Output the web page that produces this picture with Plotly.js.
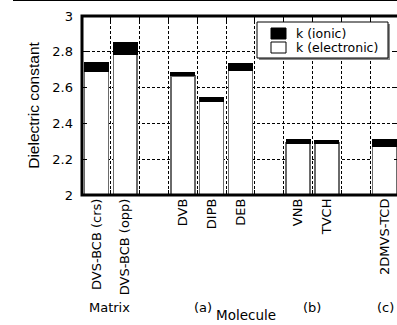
<!DOCTYPE html>
<html>
<head>
<meta charset="utf-8">
<script src="https://cdn.plot.ly/plotly-3.0.1.min.js"></script>
<style>
html, body { margin: 0; padding: 0; background: #fff; overflow: hidden; }
#chart { width: 400px; height: 325px; }
</style>
</head>
<body>
<div id="chart"></div>
<script>
// Categories (blank entries are the empty spacer slots between groups)
const categories = ['DVS-BCB (crs)', 'DVS-BCB (opp)', ' ', 'DVB', 'DIPB', 'DEB', '  ', 'VNB', 'TVCH', '   ', '2DMVS-TCD'];
// Electronic contribution (white bar, from 0)
const kElectronic = [2.69, 2.785, null, 2.665, 2.525, 2.695, null, 2.29, 2.29, null, 2.27];
// Ionic contribution (black bar, stacked on top)
const kIonic = [0.05, 0.065, null, 0.022, 0.018, 0.04, null, 0.019, 0.017, null, 0.041];
// Y tick values
const yTicks = [2, 2.2, 2.4, 2.6, 2.8, 3];
// Series names
const seriesNames = ['k (ionic)', 'k (electronic)'];
// Group labels under the axis
const groupLabels = ['Matrix', '(a)', '(b)', '(c)'];
const axisLabel = 'Molecule';

const font = 'DejaVu Sans, Arial, sans-serif';

// plot area in pixels (for placing decorations)
const L = 82, R = 1, T = 16, B = 130, W = 400, H = 325;
const PW = W - L - R, PH = H - T - B;
const px = p => (p - L) / PW;
const py = p => (H - B - p) / PH;

const traces = [
  {
    type: 'bar', name: seriesNames[1], x: categories, y: kElectronic,
    width: 0.83,
    marker: { color: '#ffffff', line: { color: '#6a6a6a', width: 1.5 } },
    hoverinfo: 'skip', showlegend: false
  },
  {
    type: 'bar', name: seriesNames[0], x: categories, y: kIonic,
    width: 0.83,
    marker: { color: '#000000', line: { color: '#000000', width: 1 } },
    hoverinfo: 'skip', showlegend: false
  }
];

const groupPx = [109, 203, 312, 385.5];
const annotations = groupLabels.map((t, i) => ({
  text: t, xref: 'paper', yref: 'paper', x: px(groupPx[i]), y: py(307),
  xanchor: 'center', yanchor: 'middle', showarrow: false,
  font: { family: font, size: 13, color: '#000' }
}));
annotations.push({
  text: axisLabel, xref: 'paper', yref: 'paper', x: px(246), y: py(314.5),
  xanchor: 'center', yanchor: 'middle', showarrow: false,
  font: { family: font, size: 13.5, color: '#000' }
});
// legend texts
annotations.push({
  text: seriesNames[0], xref: 'paper', yref: 'paper', x: px(294), y: py(33.5),
  xanchor: 'left', yanchor: 'middle', showarrow: false,
  font: { family: font, size: 12.5, color: '#000' }
});
annotations.push({
  text: seriesNames[1], xref: 'paper', yref: 'paper', x: px(294), y: py(47),
  xanchor: 'left', yanchor: 'middle', showarrow: false,
  font: { family: font, size: 12.5, color: '#000' }
});

const shapes = [
  // legend shadow, box, swatches
  { type: 'rect', xref: 'paper', yref: 'paper', x0: px(259), x1: px(390), y0: py(60), y1: py(24),
    fillcolor: '#8a8a8a', line: { width: 0 }, layer: 'above' },
  { type: 'rect', xref: 'paper', yref: 'paper', x0: px(257), x1: px(388), y0: py(58), y1: py(22),
    fillcolor: '#fff', line: { color: '#000', width: 1 }, layer: 'above' },
  { type: 'rect', xref: 'paper', yref: 'paper', x0: px(271), x1: px(286), y0: py(39), y1: py(28),
    fillcolor: '#000', line: { color: '#000', width: 1 }, layer: 'above' },
  { type: 'rect', xref: 'paper', yref: 'paper', x0: px(271), x1: px(286), y0: py(53), y1: py(42),
    fillcolor: '#fff', line: { color: '#000', width: 1 }, layer: 'above' },
  // frame
  { type: 'rect', xref: 'paper', yref: 'paper', x0: 0, x1: 1, y0: 0, y1: 1,
    line: { color: '#000', width: 3 }, layer: 'above' },
  // thin rule at top of the figure
  { type: 'line', xref: 'paper', yref: 'paper', x0: px(13), x1: px(400), y0: py(0.5), y1: py(0.5),
    line: { color: '#000', width: 1 }, layer: 'above' }
];

const layout = {
  width: W, height: H,
  margin: { l: L, r: R, t: T, b: B, pad: 0 },
  paper_bgcolor: '#fff', plot_bgcolor: '#fff',
  barmode: 'stack',
  showlegend: false,
  xaxis: {
    type: 'category',
    categoryorder: 'array', categoryarray: categories,
    range: [-0.5, 10.5],
    tickson: 'boundaries',
    ticks: 'inside', ticklen: 5, tickcolor: '#000', tickwidth: 1,
    mirror: 'allticks',
    showline: false,
    showgrid: true, gridcolor: '#000', gridwidth: 1, griddash: '3px,2px',
    tickangle: -90,
    tickfont: { family: font, size: 13, color: '#000' },
    fixedrange: true
  },
  yaxis: {
    range: [2, 3],
    tickmode: 'array', tickvals: yTicks,
    ticks: 'inside', ticklen: 5, tickcolor: '#000', tickwidth: 1,
    mirror: 'allticks',
    showline: false,
    showgrid: true, gridcolor: '#000', gridwidth: 1, griddash: '3px,2px',
    zeroline: false,
    ticklabelstandoff: 8,
    tickfont: { family: font, size: 13, color: '#000' },
    title: { text: 'Dielectric constant', standoff: 8,
             font: { family: 'Liberation Sans, Arial, sans-serif', size: 15.5, color: '#000' } },
    fixedrange: true
  },
  shapes: shapes,
  annotations: annotations
};

Plotly.newPlot('chart', traces, layout, { displayModeBar: false, staticPlot: true });
</script>
</body>
</html>
